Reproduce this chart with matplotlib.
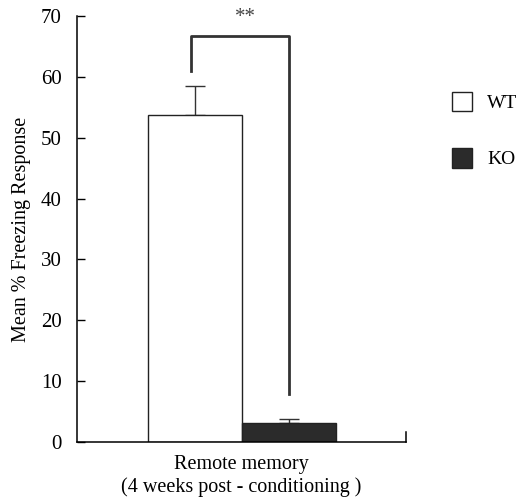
import matplotlib
matplotlib.use("Agg")
import matplotlib.pyplot as plt
from matplotlib.patches import Patch

plt.rcParams['font.family'] = ['Liberation Serif', 'DejaVu Serif']

groups = ["WT", "KO"]
means = [53.7, 3.2]
errs = [4.8, 0.5]
colors = ["white", "#2b2b2b"]
bracket_y = [61.0, 66.7, 7.9]
yticks = [0, 10, 20, 30, 40, 50, 60, 70]

fig = plt.figure(figsize=(5.22, 4.98), dpi=100)
ax = fig.add_axes([77/522, 1-442/498, 329/522, 426/498])

pos = list(range(len(groups)))
for i in pos:
    ax.bar(pos[i], means[i], width=1.0, color=colors[i], edgecolor="#222222", linewidth=1.0, zorder=2)
    ax.errorbar(pos[i], means[i], yerr=[[0], [errs[i]]], fmt="none", ecolor="#333333",
                elinewidth=1.0, capsize=7.5, capthick=1.0, zorder=1)

# significance bracket
ax.plot([pos[0] - 0.04, pos[0] - 0.04, pos[1], pos[1]],
        [bracket_y[0], bracket_y[1], bracket_y[1], bracket_y[2]],
        color="#333333", linewidth=2.0, clip_on=False)
ax.text((pos[0] + pos[1]) / 2 + 0.04, 69.7, "**", ha="center", va="center", fontsize=15, color="#444444",
        clip_on=False)

ax.set_xlim(-1.255, 2.245)
ax.set_ylim(0, 70)
ax.set_yticks(yticks)
ax.set_yticklabels([str(t) for t in yticks], fontsize=15)
ax.set_xticks([])
ax.tick_params(axis="y", direction="in", length=6, width=1.0, pad=11)
ax.spines["top"].set_visible(False)
ax.spines["right"].set_visible(False)
ax.spines["left"].set_linewidth(1.1)
ax.spines["bottom"].set_linewidth(1.1)
ax.plot([2.245, 2.245], [0, 1.6], color="black", linewidth=1.1, clip_on=False)

ax.set_ylabel("Mean % Freezing Response", fontsize=14.5, labelpad=7)
ax.set_xlabel("Remote memory\n(4 weeks post - conditioning )", fontsize=14.5, labelpad=9, linespacing=1.25)

handles = [Patch(facecolor=colors[i], edgecolor="#222222", linewidth=1.0, label=groups[i]) for i in pos]
fig.legend(handles=handles, loc="upper left", bbox_to_anchor=(452/522, 1-92/498), frameon=False,
           borderpad=0, borderaxespad=0, fontsize=14, handlelength=1.05, handleheight=1.15,
           labelspacing=1.85, handletextpad=0.75)

fig.savefig("out.png", dpi=100)
